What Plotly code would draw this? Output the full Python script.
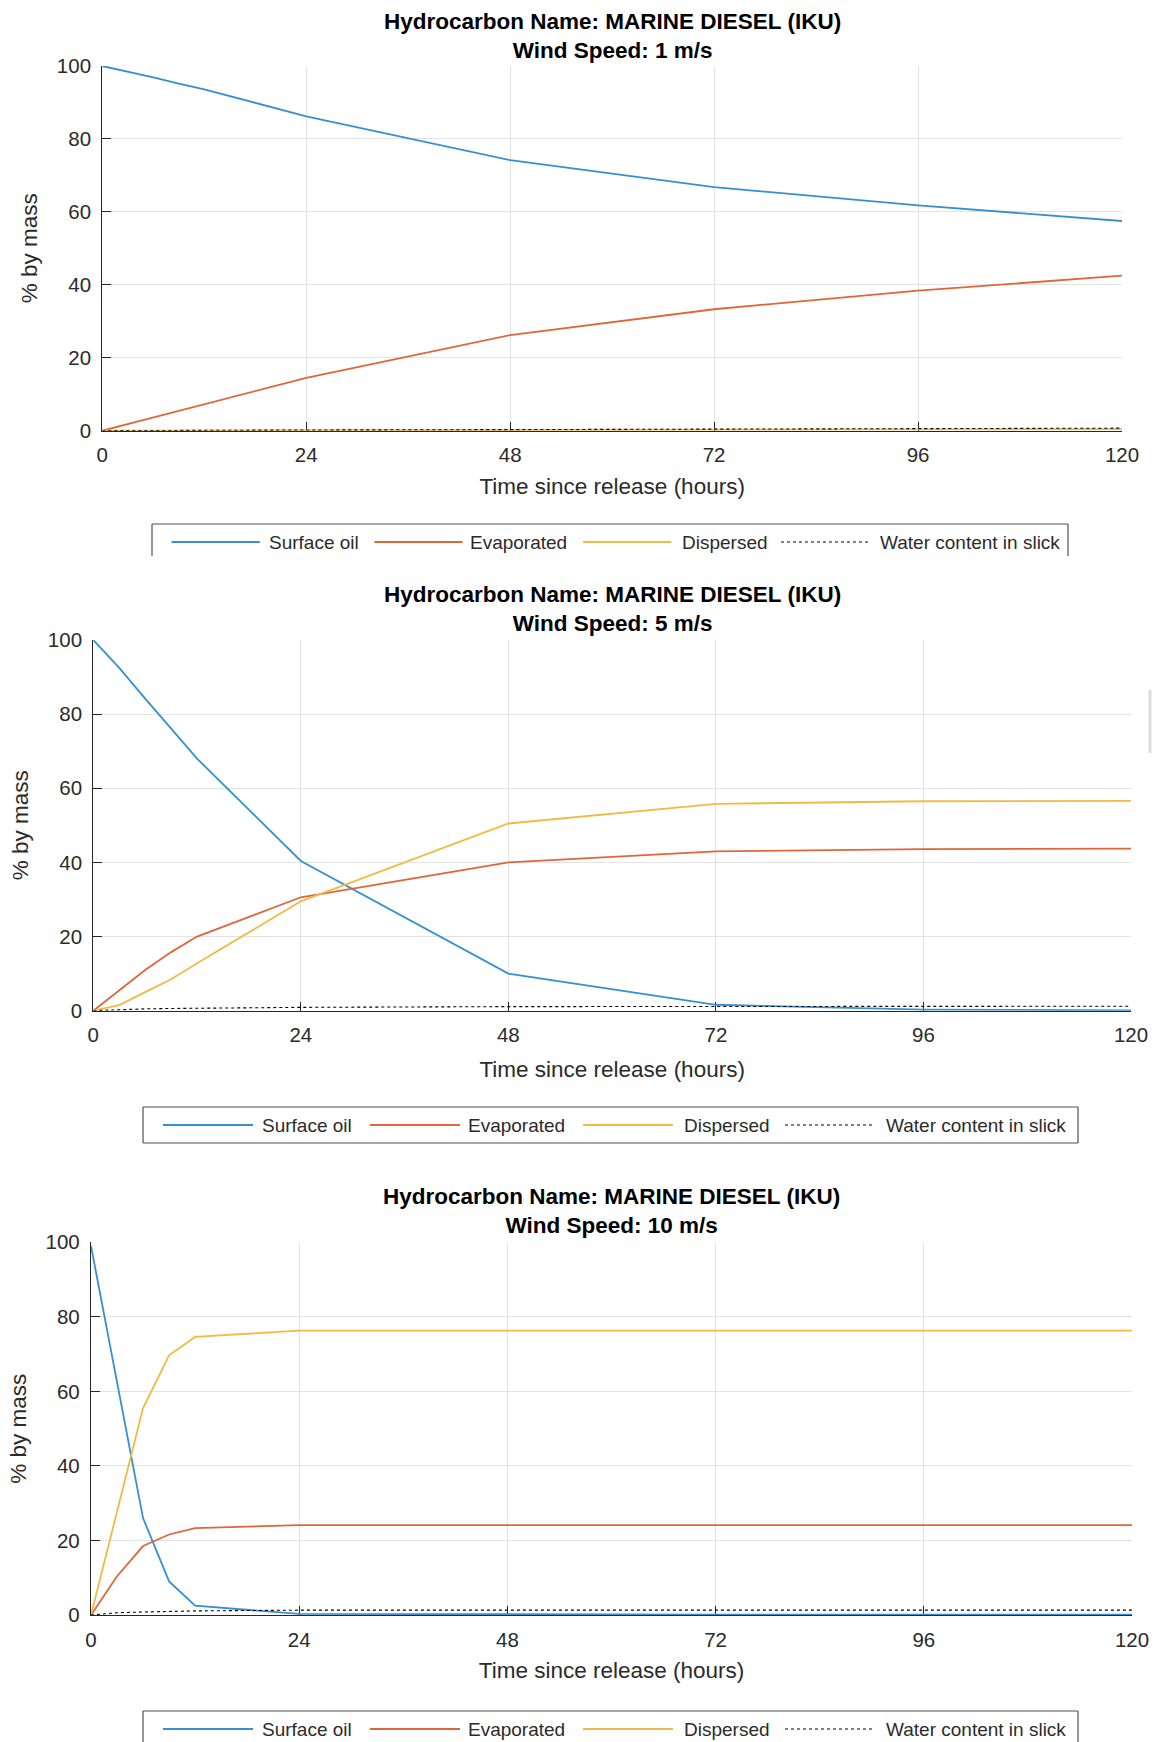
import plotly.graph_objects as go

W, H = 1158, 1742

# ---------------- data ----------------
hours = [0, 3, 6, 9, 12, 24, 48, 72, 96, 120]
series_names = ["Surface oil", "Evaporated", "Dispersed", "Water content in slick"]
wind_speeds = ["1 m/s", "5 m/s", "10 m/s"]
hydrocarbon = "MARINE DIESEL (IKU)"

# Wind 1 m/s
surface_1 = [100, 98.5, 96.9, 95.2, 93.6, 86.2, 74.2, 66.8, 61.8, 57.5]
evap_1 = [0, 1.8, 3.6, 5.5, 7.3, 14.5, 26.2, 33.3, 38.4, 42.5]
disp_1 = [0, 0.02, 0.04, 0.06, 0.08, 0.12, 0.2, 0.28, 0.36, 0.45]
water_1 = [0, 0.05, 0.1, 0.12, 0.15, 0.2, 0.3, 0.4, 0.55, 0.7]

# Wind 5 m/s
surface_5 = [100, 92.5, 84.2, 76.0, 68.0, 40.4, 10.0, 1.6, 0.3, 0.1]
evap_5 = [0, 5.5, 11.0, 15.8, 20.0, 30.6, 40.0, 43.0, 43.6, 43.7]
disp_5 = [0, 1.5, 5.0, 8.5, 12.8, 29.5, 50.5, 55.8, 56.5, 56.6]
water_5 = [0, 0.3, 0.5, 0.6, 0.7, 0.9, 1.1, 1.2, 1.2, 1.2]

# Wind 10 m/s
surface_10 = [99, 62, 26, 9, 2.5, 0.3, 0.1, 0.1, 0.1, 0.1]
evap_10 = [0, 10.4, 18.5, 21.6, 23.3, 24.1, 24.1, 24.1, 24.1, 24.1]
disp_10 = [0, 28.0, 55.5, 69.7, 74.6, 76.3, 76.3, 76.3, 76.3, 76.3]
water_10 = [0, 0.6, 0.8, 1.0, 1.1, 1.3, 1.3, 1.3, 1.3, 1.3]

panels_data = [
    [surface_1, evap_1, disp_1, water_1],
    [surface_5, evap_5, disp_5, water_5],
    [surface_10, evap_10, disp_10, water_10],
]

x_ticks = [0, 24, 48, 72, 96, 120]
y_ticks = [0, 20, 40, 60, 80, 100]

# ---------------- styles / layout ----------------
colors = ["#3590d2", "#e0663a", "#efbb45", "#000000"]
dashes = ["solid", "solid", "solid", "dot"]
widths = [1.8, 1.8, 1.8, 1.1]
FONT = "Liberation Sans, Arial, sans-serif"
TXT = "#2b2b2b"

# pixel boxes of each plot area: (left, right, top, bottom)
boxes = [
    (102.3, 1122, 66, 430.7),
    (93.3, 1131, 640, 1010.7),
    (91, 1132, 1242.3, 1615),
]
title_mid = [35.5, 609, 1211]
xtitle_standoff = [12, 15, 12]
# legend boxes: (left, right, top, bottom, closed)
leg_boxes = [
    (152, 1068, 524, 556, False),
    (143, 1078, 1107, 1143, True),
    (143, 1078, 1711, 1742, False),
]
leg_line_off = [20, 227, 440, 642]
leg_text_off = [117, 323, 539, 741]
leg_line_len = 90


def px(x):
    return x / W


def py(y):
    return 1 - y / H


fig = go.Figure()
layout = dict(
    width=W, height=H,
    margin=dict(l=0, r=0, t=0, b=0),
    paper_bgcolor="white", plot_bgcolor="white",
    showlegend=False,
    font=dict(family=FONT, color=TXT),
)
annotations = []
shapes = []

for i, (data, ws, box) in enumerate(zip(panels_data, wind_speeds, boxes)):
    sfx = "" if i == 0 else str(i + 1)
    l, r, t, b = box
    for name, vals, c, d, w in zip(series_names, data, colors, dashes, widths):
        fig.add_trace(go.Scatter(
            x=hours, y=vals, mode="lines", name=name,
            line=dict(color=c, dash=d, width=w),
            xaxis="x" + sfx, yaxis="y" + sfx,
        ))
    layout["xaxis" + sfx] = dict(
        domain=[px(l), px(r)], anchor="y" + sfx, range=[0, 120],
        tickvals=x_ticks, ticktext=[str(v) for v in x_ticks],
        showgrid=True, gridcolor="#e3e3e3", gridwidth=1, zeroline=False,
        showline=True, linecolor="#262626", linewidth=1.3, layer="below traces",
        ticks="inside", ticklen=9, tickcolor="#262626", tickwidth=1.3,
        tickfont=dict(size=20.5, color=TXT), ticklabelstandoff=6,
        title=dict(text="Time since release (hours)", font=dict(size=22.5, color=TXT),
                   standoff=xtitle_standoff[i]),
        automargin=False, fixedrange=True,
    )
    layout["yaxis" + sfx] = dict(
        domain=[py(b), py(t)], anchor="x" + sfx, range=[0, 100],
        tickvals=y_ticks, ticktext=[str(v) for v in y_ticks],
        showgrid=True, gridcolor="#e3e3e3", gridwidth=1, zeroline=False,
        showline=True, linecolor="#262626", linewidth=1.3, layer="below traces",
        ticks="inside", ticklen=9, tickcolor="#262626", tickwidth=1.3,
        tickfont=dict(size=20.5, color=TXT), ticklabelstandoff=6,
        title=dict(text="% by mass", font=dict(size=22.5, color=TXT), standoff=12),
        automargin=False, fixedrange=True,
    )
    annotations.append(dict(
        xref="paper", yref="paper", x=px((l + r) / 2), y=py(title_mid[i]),
        xanchor="center", yanchor="middle", showarrow=False,
        text=f"<b>Hydrocarbon Name: {hydrocarbon}</b><br><b>Wind Speed: {ws}</b>",
        font=dict(size=22.5, color="#000000", family=FONT),
    ))
    # legend box
    bl, br, bt, bb, closed = leg_boxes[i]
    edge = dict(color="#505050", width=1.2)
    shapes.append(dict(type="line", xref="paper", yref="paper", x0=px(bl), x1=px(br), y0=py(bt), y1=py(bt), line=edge))
    shapes.append(dict(type="line", xref="paper", yref="paper", x0=px(bl), x1=px(bl), y0=py(bt), y1=py(bb), line=edge))
    shapes.append(dict(type="line", xref="paper", yref="paper", x0=px(br), x1=px(br), y0=py(bt), y1=py(bb), line=edge))
    if closed:
        shapes.append(dict(type="line", xref="paper", yref="paper", x0=px(bl), x1=px(br), y0=py(bb), y1=py(bb), line=edge))
    scale = (br - bl) / 935.0
    ymid = bt + 18
    for name, c, d, w, lo, to in zip(series_names, colors, dashes, widths, leg_line_off, leg_text_off):
        x0 = bl + lo * scale
        shapes.append(dict(type="line", xref="paper", yref="paper",
                           x0=px(x0), x1=px(x0 + leg_line_len * scale), y0=py(ymid), y1=py(ymid),
                           line=dict(color=c, dash=d, width=w)))
        annotations.append(dict(
            xref="paper", yref="paper", x=px(bl + to * scale), y=py(ymid),
            xanchor="left", yanchor="middle", showarrow=False, text=name,
            font=dict(size=19, color=TXT, family=FONT),
        ))

# faint vertical artefact at the right edge of the middle panel
shapes.append(dict(type="line", xref="paper", yref="paper", x0=px(1150), x1=px(1150),
                   y0=py(690), y1=py(753), line=dict(color="#dcdcdc", width=3)))

layout["annotations"] = annotations
layout["shapes"] = shapes
fig.update_layout(**layout)
fig.write_html("out.html")
